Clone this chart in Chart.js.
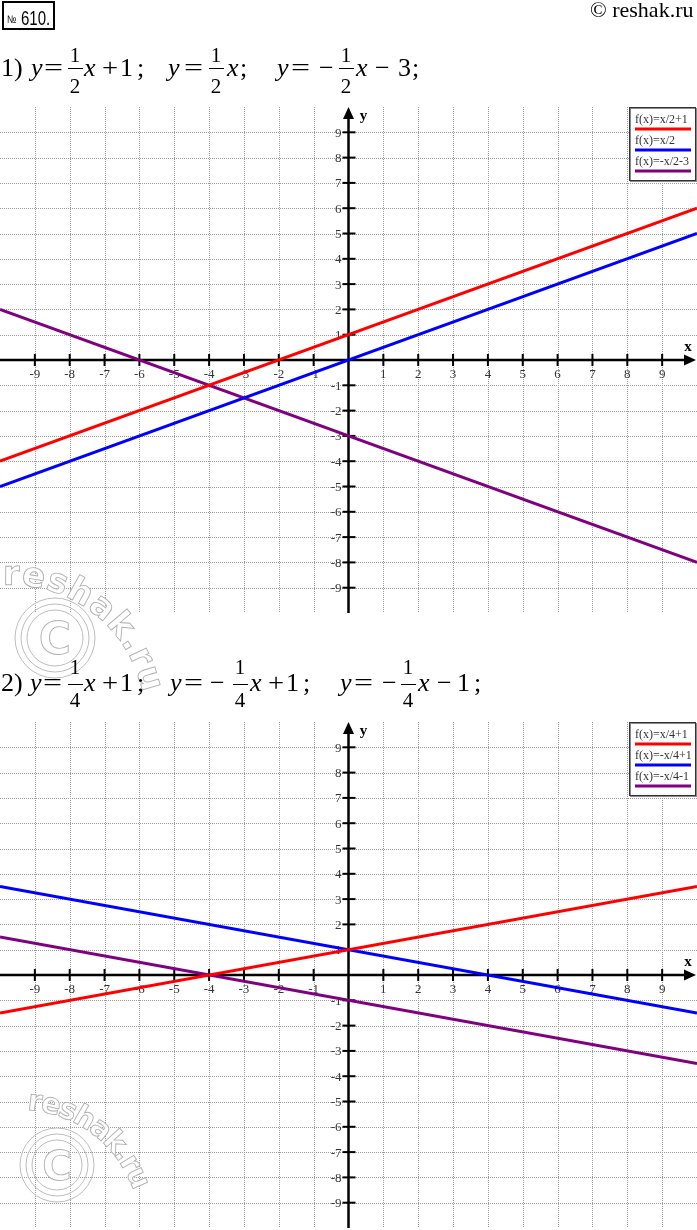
<!DOCTYPE html>
<html><head><meta charset="utf-8">
<script src="https://cdn.jsdelivr.net/npm/chart.js@4/dist/chart.umd.min.js"></script>
<style>
html,body{margin:0;padding:0;background:#fff;}
body{width:697px;height:1230px;position:relative;overflow:hidden;font-family:'Liberation Serif','Times New Roman',serif;}
.t{position:absolute;white-space:pre;line-height:1;color:#000;}
.bar{position:absolute;height:1px;background:#000;}
canvas{position:absolute;left:0;}
#numbox{position:absolute;left:2px;top:1px;width:53px;height:29px;border:2px solid #000;box-sizing:border-box;}
svg{position:absolute;left:0;top:0;pointer-events:none;}
</style></head><body>
<div id="numbox"></div>
<canvas id="c1" width="697" height="530" style="top:100px"></canvas>
<canvas id="c2" width="697" height="515" style="top:715px"></canvas>
<svg width="697" height="1230" viewBox="0 0 697 1230">
  <defs>
    <path id="arc1" d="M 3 585 A 135 135 0 0 1 142 690" fill="none"/>
    <path id="arc2" d="M 27 1110 A 120 120 0 0 1 133 1189" fill="none"/>
  </defs>
  <g fill="none" stroke="#bdbdbd" stroke-width="1">
    <circle cx="55" cy="638" r="40"/><circle cx="55" cy="638" r="34"/><circle cx="55" cy="638" r="28"/>
    <circle cx="57" cy="1165" r="37"/><circle cx="57" cy="1165" r="31"/><circle cx="57" cy="1165" r="25"/>
  </g>
  <g fill="rgba(255,255,255,0.85)" stroke="#b0b0b0" stroke-width="0.9" font-family="DejaVu Sans" font-weight="bold">
    <text x="55" y="654" font-size="44" text-anchor="middle">C</text>
    <text x="57" y="1180" font-size="40" text-anchor="middle">C</text>
    <text font-size="34"><textPath href="#arc1" textLength="192" lengthAdjust="spacing">reshak.ru</textPath></text>
    <text font-size="29"><textPath href="#arc2" textLength="142" lengthAdjust="spacing">reshak.ru</textPath></text>
  </g>
</svg>
<script>
// ---- data ----
const xEnds = [-10, 10];
const tickValues = [-9, -8, -7, -6, -5, -4, -3, -2, -1, 1, 2, 3, 4, 5, 6, 7, 8, 9];
const lineColors = ['#ff0000', '#0000ff', '#800080'];

const chart1Labels = ['f(x)=x/2+1', 'f(x)=x/2', 'f(x)=-x/2-3'];
const chart1Red = [-4, 6];
const chart1Blue = [-5, 5];
const chart1Purple = [2, -8];

const chart2Labels = ['f(x)=x/4+1', 'f(x)=-x/4+1', 'f(x)=-x/4-1'];
const chart2Red = [-1.5, 3.5];
const chart2Blue = [3.5, -1.5];
const chart2Purple = [1.5, -3.5];

// ---- header text ----
function tok(text, x, base, size, opts) {
  opts = opts || {};
  const s = document.createElement('span');
  s.className = 't';
  s.textContent = text;
  s.style.fontSize = size + 'px';
  s.style.left = x + 'px';
  s.style.top = (base - 0.8375 * size) + 'px';
  if (opts.italic) s.style.fontStyle = 'italic';
  if (opts.family) s.style.fontFamily = opts.family;
  if (opts.sx) { s.style.transform = 'scaleX(' + opts.sx + ')'; s.style.transformOrigin = 'left'; }
  document.body.appendChild(s);
  return s;
}
function frac(num, den, cx, numBase, barY, denBase) {
  const w = 16, fs = 21;
  const a = tok(num, cx - w / 2, numBase, fs); a.style.width = w + 'px'; a.style.textAlign = 'center';
  const b = tok(den, cx - w / 2, denBase, fs); b.style.width = w + 'px'; b.style.textAlign = 'center';
  const bar = document.createElement('div');
  bar.className = 'bar';
  bar.style.left = (cx - 7.5) + 'px'; bar.style.width = '15px'; bar.style.top = barY + 'px';
  document.body.appendChild(bar);
}
const sans = "'Liberation Sans','DejaVu Sans',sans-serif";
tok('№', 7, 23, 11, {family: sans, sx: 0.8});
tok('610.', 21, 25, 20, {family: sans, sx: 0.75});
tok('© reshak.ru', 590, 17, 22);

const F = 26;
// line 1
let B = 77;
tok('1)', 1, B, F);
tok('y', 31, B, F, {italic: true});
tok('=', 44, B, F, {sx: 1.3});
frac('1', '2', 75, 63, 68, 94);
tok('x', 84, B, F, {italic: true});
tok('+', 102, B, F, {sx: 1.1});
tok('1', 120, B, F);
tok(';', 137, B, F);
tok('y', 168, B, F, {italic: true});
tok('=', 184, B, F, {sx: 1.3});
frac('1', '2', 216, 63, 68, 94);
tok('x', 227, B, F, {italic: true});
tok(';', 240, B, F);
tok('y', 277, B, F, {italic: true});
tok('=', 291, B, F, {sx: 1.3});
tok('−', 319, B, F);
frac('1', '2', 346, 63, 68, 94);
tok('x', 356, B, F, {italic: true});
tok('−', 375, B, F);
tok('3', 398, B, F);
tok(';', 412, B, F);

// line 2
B = 692;
tok('2)', 1, B, F);
tok('y', 30, B, F, {italic: true});
tok('=', 43, B, F, {sx: 1.3});
frac('1', '4', 75, 675, 684, 708);
tok('x', 84, B, F, {italic: true});
tok('+', 102, B, F, {sx: 1.1});
tok('1', 120, B, F);
tok(';', 137, B, F);
tok('y', 170, B, F, {italic: true});
tok('=', 184, B, F, {sx: 1.3});
tok('−', 210, B, F);
frac('1', '4', 240, 675, 684, 708);
tok('x', 250, B, F, {italic: true});
tok('+', 268, B, F, {sx: 1.1});
tok('1', 286, B, F);
tok(';', 303, B, F);
tok('y', 340, B, F, {italic: true});
tok('=', 354, B, F, {sx: 1.3});
tok('−', 382, B, F);
frac('1', '4', 408, 675, 684, 708);
tok('x', 418, B, F, {italic: true});
tok('−', 437, B, F);
tok('1', 457, B, F);
tok(';', 474, B, F);

// ---- chart plugins ----
const gridAxesPlugin = {
  id: 'gridAxes',
  beforeDatasetsDraw(chart) {
    const ctx = chart.ctx, a = chart.chartArea, x = chart.scales.x, y = chart.scales.y;
    ctx.save();
    ctx.strokeStyle = '#9c9c9c';
    ctx.lineWidth = 1;
    ctx.setLineDash([1, 1]);
    tickValues.forEach(v => {
      const px = Math.round(x.getPixelForValue(v)) + 0.5;
      ctx.beginPath(); ctx.moveTo(px, a.top); ctx.lineTo(px, a.bottom); ctx.stroke();
      const py = Math.round(y.getPixelForValue(v)) + 0.5;
      ctx.beginPath(); ctx.moveTo(a.left, py); ctx.lineTo(a.right, py); ctx.stroke();
    });
    ctx.setLineDash([]);
    const x0 = x.getPixelForValue(0), y0 = y.getPixelForValue(0);
    ctx.strokeStyle = '#000'; ctx.fillStyle = '#000';
    ctx.lineWidth = 2.5;
    ctx.beginPath(); ctx.moveTo(a.left, y0); ctx.lineTo(a.right - 8, y0); ctx.stroke();
    ctx.beginPath(); ctx.moveTo(a.right - 1, y0); ctx.lineTo(a.right - 13, y0 - 5.5); ctx.lineTo(a.right - 13, y0 + 5.5); ctx.closePath(); ctx.fill();
    ctx.beginPath(); ctx.moveTo(x0, a.bottom); ctx.lineTo(x0, a.top + 8); ctx.stroke();
    ctx.beginPath(); ctx.moveTo(x0, a.top); ctx.lineTo(x0 - 5.5, a.top + 12); ctx.lineTo(x0 + 5.5, a.top + 12); ctx.closePath(); ctx.fill();
    ctx.lineWidth = 2;
    tickValues.forEach(v => {
      const px = x.getPixelForValue(v);
      ctx.beginPath(); ctx.moveTo(px, y0 - 6); ctx.lineTo(px, y0 + 6); ctx.stroke();
      const py = y.getPixelForValue(v);
      ctx.beginPath(); ctx.moveTo(x0 - 6, py); ctx.lineTo(x0 + 7, py); ctx.stroke();
    });
    ctx.font = '13px "Liberation Serif"';
    ctx.fillStyle = '#333';
    ctx.textBaseline = 'middle';
    ctx.textAlign = 'center';
    tickValues.forEach(v => ctx.fillText(String(v), x.getPixelForValue(v), y0 + 15));
    ctx.textAlign = 'right';
    tickValues.forEach(v => ctx.fillText(String(v), x0 - 7, y.getPixelForValue(v) + 1));
    ctx.font = 'bold 15px "Liberation Serif"';
    ctx.fillStyle = '#000';
    ctx.textAlign = 'center';
    ctx.fillText('x', a.right - 9, y0 - 13);
    ctx.fillText('y', x0 + 15, a.top + 9);
    ctx.restore();
  }
};

const boxLegendPlugin = {
  id: 'boxLegend',
  afterDatasetsDraw(chart) {
    const ctx = chart.ctx, a = chart.chartArea;
    const bx = a.right - 68, by = a.top, bw = 66, bh = 73;
    ctx.save();
    ctx.fillStyle = '#fff';
    ctx.fillRect(bx, by, bw, bh);
    ctx.strokeStyle = '#8a8a8a'; ctx.lineWidth = 1;
    ctx.strokeRect(bx + 1.5, by + 1.5, bw, bh);
    ctx.strokeStyle = '#333';
    ctx.strokeRect(bx + 0.5, by + 0.5, bw, bh);
    ctx.font = '12px "Liberation Serif"';
    ctx.textAlign = 'left';
    ctx.textBaseline = 'alphabetic';
    chart.data.datasets.forEach((ds, i) => {
      const ty = by + 16 + i * 21;
      ctx.fillStyle = '#333';
      ctx.fillText(ds.label, bx + 6, ty);
      ctx.strokeStyle = ds.borderColor; ctx.lineWidth = 3;
      ctx.beginPath(); ctx.moveTo(bx + 6, ty + 6); ctx.lineTo(bx + 62, ty + 6); ctx.stroke();
    });
    ctx.restore();
  }
};

function makeChart(id, labels, series, padBottom) {
  return new Chart(document.getElementById(id), {
    type: 'scatter',
    data: {
      datasets: series.map((s, i) => ({
        label: labels[i],
        data: xEnds.map((xv, j) => ({x: xv, y: s[j]})),
        showLine: true,
        borderColor: lineColors[i],
        backgroundColor: lineColors[i],
        borderWidth: 3,
        pointRadius: 0,
        fill: false
      }))
    },
    options: {
      responsive: false,
      animation: false,
      layout: {padding: {top: 7, bottom: padBottom, left: 0, right: 0}},
      scales: {
        x: {type: 'linear', min: -10, max: 10, display: false},
        y: {type: 'linear', min: -10, max: 10, display: false}
      },
      plugins: {legend: {display: false}, tooltip: {enabled: false}}
    },
    plugins: [gridAxesPlugin, boxLegendPlugin]
  });
}

makeChart('c1', chart1Labels, [chart1Red, chart1Blue, chart1Purple], 17);
makeChart('c2', chart2Labels, [chart2Red, chart2Blue, chart2Purple], 2);
</script>
</body></html>
